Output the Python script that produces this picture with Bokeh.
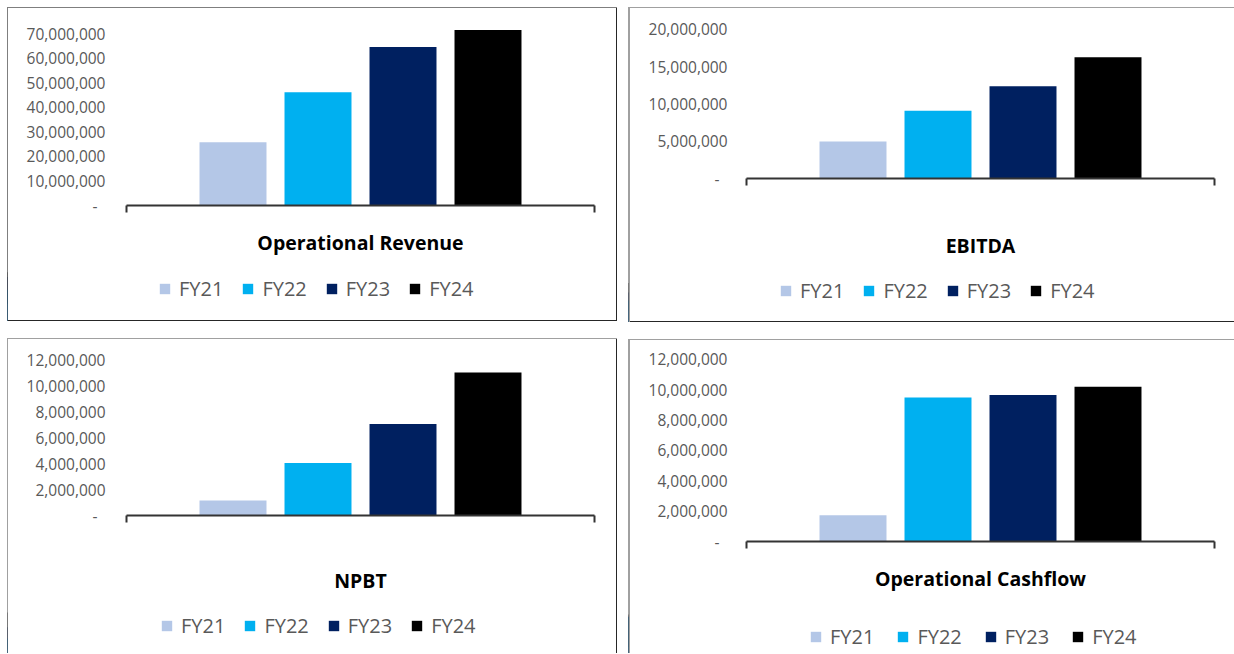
from bokeh.plotting import figure
from bokeh.models import (ColumnDataSource, Range1d, LinearAxis, FixedTicker,
                          NumeralTickFormatter, Legend, LegendItem)
from bokeh.layouts import column, row
from bokeh.embed import file_html
from bokeh.resources import INLINE

years = ["FY21", "FY22", "FY23", "FY24"]
colors = ["#b4c7e7", "#00b0f0", "#002060", "#000000"]

revenue = [25_800_000, 46_200_000, 64_700_000, 71_600_000]
ebitda = [4_960_000, 9_060_000, 12_370_000, 16_250_000]
npbt = [1_150_000, 4_050_000, 7_050_000, 11_020_000]
cashflow = [1_720_000, 9_480_000, 9_630_000, 10_180_000]

revenue_ticks = [0, 10_000_000, 20_000_000, 30_000_000, 40_000_000, 50_000_000, 60_000_000, 70_000_000]
ebitda_ticks = [0, 5_000_000, 10_000_000, 15_000_000, 20_000_000]
npbt_ticks = [0, 2_000_000, 4_000_000, 6_000_000, 8_000_000, 10_000_000, 12_000_000]
cashflow_ticks = [0, 2_000_000, 4_000_000, 6_000_000, 8_000_000, 10_000_000, 12_000_000]

titles = ["Operational Revenue", "EBITDA", "NPBT", "Operational Cashflow"]

FONT = "Open Sans"
GREY = "#595959"
PAD = 0.753  # empty category space on each side of the bar group


def no_align(p):
    if "frame_align" in p.properties():
        p.frame_align = False


def panel(title, values, ticks, y_end, width, heights, chart_borders, label_standoff,
          title_standoff, legend_loc, legend_spacing, margin, shadow):
    idx = list(range(len(years)))
    src = ColumnDataSource(dict(idx=idx, year=years, value=values, color=colors))
    left, right, top, bottom = chart_borders
    x0, x1 = -0.5 - PAD, len(years) - 0.5 + PAD
    p = figure(x_range=Range1d(x0, x1), y_range=Range1d(0, y_end),
               width=width, height=top + bottom + heights[0],
               min_border_left=left, min_border_right=right,
               min_border_top=top, min_border_bottom=bottom,
               x_axis_location=None,
               output_backend="svg", toolbar_location=None,
               border_fill_color=None, background_fill_color=None,
               outline_line_color=None)
    no_align(p)
    p.grid.visible = False
    p.vbar(x="idx", top="value", width=0.788, source=src,
           fill_color="color", line_color=None)

    ya = p.yaxis[0]
    ya.ticker = FixedTicker(ticks=ticks)
    ya.formatter = NumeralTickFormatter(format="0,0")
    ya.major_label_overrides = {0: "-\u00a0\u00a0"}
    ya.axis_line_color = None
    ya.major_tick_line_color = None
    ya.minor_tick_line_color = None
    ya.major_label_standoff = label_standoff
    ya.major_label_text_font = FONT
    ya.major_label_text_font_size = "15.5px"
    ya.major_label_text_color = GREY

    xa = LinearAxis(ticker=FixedTicker(ticks=[x0, x1]),
                    axis_line_color="#333333", axis_line_width=2,
                    major_tick_line_color="#333333", major_tick_line_width=2,
                    major_tick_in=0, major_tick_out=7,
                    minor_tick_line_color=None,
                    major_label_text_font_size="0px", major_label_standoff=0,
                    axis_label=title, axis_label_standoff=title_standoff,
                    axis_label_text_font=FONT, axis_label_text_font_style="bold",
                    axis_label_text_font_size="19.5px", axis_label_text_color="#000000")
    p.add_layout(xa, "below")

    # legend strip underneath the chart (its bar renderer lies left of the view)
    lg = figure(x_range=Range1d(x0 + 12, x1 + 12), y_range=Range1d(0, y_end),
                width=width, height=heights[1],
                min_border_left=0, min_border_right=0,
                min_border_top=0, min_border_bottom=0,
                x_axis_location=None, y_axis_location=None,
                output_backend="svg", toolbar_location=None,
                border_fill_color=None, background_fill_color=None,
                outline_line_color=None)
    no_align(lg)
    lg.grid.visible = False
    r = lg.vbar(x="idx", top="value", width=0.788, source=src,
                fill_color="color", line_color=None)
    items = [LegendItem(label=y, renderers=[r], index=i) for i, y in enumerate(years)]
    leg = Legend(items=items, location=legend_loc, orientation="horizontal",
                 glyph_width=13, glyph_height=13, label_standoff=8,
                 spacing=legend_spacing, padding=0, margin=0,
                 border_line_color=None, background_fill_color=None,
                 background_fill_alpha=0,
                 label_text_font=FONT, label_text_font_size="20px",
                 label_text_color=GREY)
    lg.add_layout(leg)
    return column(p, lg, margin=margin, styles={"box-shadow": shadow})


# heights: (frame height, legend strip height)
p1 = panel(titles[0], revenue, revenue_ticks, 75_500_000, 610, (185, 52),
           (119, 23, 13, 64), 15, 16, (151, 19), 18, (7, 0, 0, 7),
           "inset 1px 1px 0 #7f7f7f, inset -1px -1px 0 #262626")
p2 = panel(titles[1], ebitda, ebitda_ticks, 21_030_000, 606, (157, 51),
           (118, 20, 14, 93), 13, 46, (151, 18), 18, (7, 0, 0, 11),
           "inset 2px 1px 0 #a0a0a0, inset 0 -1px 0 #262626")
p3 = panel(titles[2], npbt, npbt_ticks, 12_640_000, 610, (164, 47),
           (119, 23, 13, 91), 15, 44, (153, 14), 18, (16, 0, 0, 7),
           "inset 1px 1px 0 #a0a0a0, inset -1px 0 0 #262626")
p4 = panel(titles[3], cashflow, cashflow_ticks, 12_500_000, 606, (190, 48),
           (118, 20, 12, 64), 13, 16, (181, 3), 22, (17, 0, 0, 11),
           "inset 2px 1px 0 #a0a0a0")

layout = column(row(p1, p2), row(p3, p4))

open("out.html", "w").write(file_html(layout, INLINE))
